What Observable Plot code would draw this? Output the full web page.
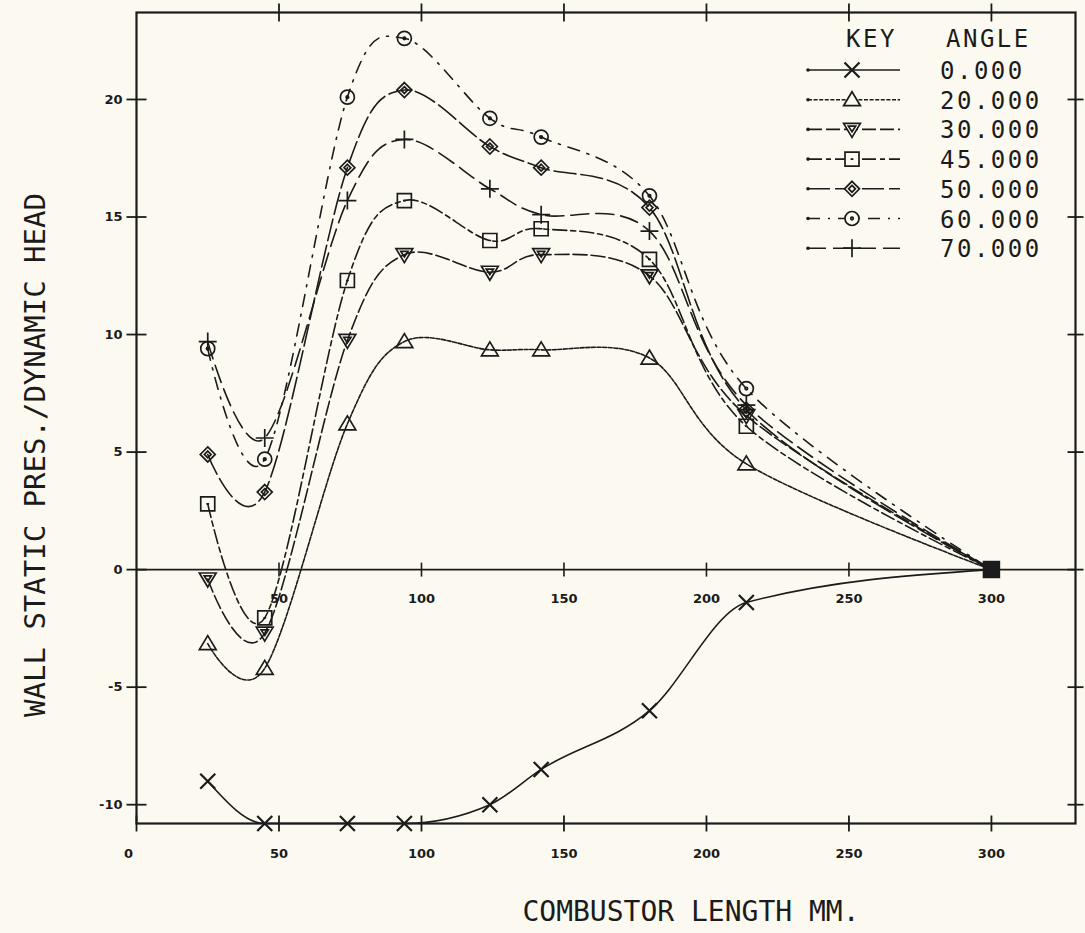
<!DOCTYPE html>
<html>
<head>
<meta charset="utf-8">
<script src="https://cdn.jsdelivr.net/npm/d3@7"></script>
<script src="https://cdn.jsdelivr.net/npm/@observablehq/plot@0.6"></script>
<style>
  html, body { margin: 0; padding: 0; background: #fcfaf0; }
  #wrap { position: relative; width: 1085px; height: 933px; overflow: hidden; }
  #wrap svg { position: absolute; left: 0; top: 0; }
</style>
</head>
<body>
<div id="wrap"></div>
<script>
// ---------- data ----------
const positions = [25, 45, 74, 94, 124, 142, 180, 214, 300];   // combustor length (mm)
const angles = ["0.000", "20.000", "30.000", "45.000", "50.000", "60.000", "70.000"];
const angle0  = [-9.0, -10.8, -10.8, -10.8, -10.0, -8.5, -6.0, -1.4, 0];
const angle20 = [-3.15, -4.2, 6.2, 9.7, 9.35, 9.35, 9.0, 4.5, 0];
const angle30 = [-0.4, -2.7, 9.75, 13.4, 12.65, 13.4, 12.5, 6.55, 0];
const angle45 = [2.8, -2.05, 12.3, 15.7, 14.0, 14.5, 13.2, 6.1, 0];
const angle50 = [4.9, 3.3, 17.1, 20.4, 18.0, 17.1, 15.4, 6.8, 0];
const angle60 = [9.4, 4.7, 20.1, 22.6, 19.2, 18.4, 15.9, 7.7, 0];
const angle70 = [9.7, 5.6, 15.7, 18.3, 16.2, 15.1, 14.4, 7.0, 0];
const seriesValues = [angle0, angle20, angle30, angle45, angle50, angle60, angle70];
const xTicks = [0, 50, 100, 150, 200, 250, 300];
const yTicks = [-10, -5, 0, 5, 10, 15, 20];
const xTitle = "COMBUSTOR LENGTH MM.";
const yTitle = "WALL STATIC PRES./DYNAMIC HEAD";

// ---------- styling ----------
const ink = "#1b1b1b";
const X0 = 0, X1 = 329.5, Y0 = -10.8, Y1 = 23.7;
const rad = s => Math.sqrt(s / Math.PI);
const sym = {
  times: {draw(c, s){const r = rad(s); c.moveTo(-r,-r); c.lineTo(r,r); c.moveTo(-r,r); c.lineTo(r,-r);}},
  triUp: {draw(c, s){const r = rad(s); c.moveTo(0,-r); c.lineTo(r*1.05,r*0.75); c.lineTo(-r*1.05,r*0.75); c.closePath();}},
  triDown: {draw(c, s){const r = rad(s); c.moveTo(0,r); c.lineTo(r*1.05,-r*0.75); c.lineTo(-r*1.05,-r*0.75); c.closePath(); c.moveTo(0,r*0.3); c.lineTo(r*0.45,-r*0.4); c.lineTo(-r*0.45,-r*0.4); c.closePath();}},
  square: {draw(c, s){const r = rad(s); c.rect(-r,-r,2*r,2*r); c.moveTo(-r*0.2,0); c.lineTo(r*0.2,0);}},
  diamond: {draw(c, s){const r = rad(s); c.moveTo(0,-r); c.lineTo(r,0); c.lineTo(0,r); c.lineTo(-r,0); c.closePath(); const q = r*0.45; c.moveTo(0,-q); c.lineTo(q,0); c.lineTo(0,q); c.lineTo(-q,0); c.closePath();}},
  circleDot: {draw(c, s){const r = rad(s); c.moveTo(r,0); c.arc(0,0,r,0,2*Math.PI); c.moveTo(1.3,0); c.arc(0,0,1.3,0,2*Math.PI);}},
  plus: {draw(c, s){const r = rad(s); c.moveTo(-r,0); c.lineTo(r,0); c.moveTo(0,-r); c.lineTo(0,r);}},
  tickV: {draw(c, s){const r = rad(s); c.moveTo(0,-r); c.lineTo(0,r);}},
  tickH: {draw(c, s){const r = rad(s); c.moveTo(-r,0); c.lineTo(r,0);}},
  filledSquare: {draw(c, s){const r = rad(s); c.rect(-r,-r,2*r,2*r);}}
};
const styles = [
  {symbol: sym.times,     r: 7.5, dash: null},
  {symbol: sym.triUp,     r: 8,   dash: "4,1.6"},
  {symbol: sym.triDown,   r: 8,   dash: "14,4"},
  {symbol: sym.square,    r: 7,   dash: "14,4,5,4"},
  {symbol: sym.diamond,   r: 7.5, dash: "22,5"},
  {symbol: sym.circleDot, r: 7,   dash: "12,8,2,8"},
  {symbol: sym.plus,      r: 9,   dash: "18,7"}
];

const rows = seriesValues.map((vals, k) => positions.map((x, i) => ({x, y: vals[i], angle: angles[k]})));

const tickFont = {fontFamily: "DejaVu Sans", fontWeight: 900, fontSize: 13, fill: ink};
const titleFont = {fontFamily: "DejaVu Sans Mono", fontSize: 28, fill: ink};

const marks = [
  Plot.frame({stroke: ink, strokeWidth: 2.2}),
  Plot.ruleY([0], {stroke: ink, strokeWidth: 1.6}),
  // crossing ticks
  Plot.dot(xTicks, {x: d => d, y: () => Y0, symbol: sym.tickV, r: 8, stroke: ink, fill: "none", strokeWidth: 1.8}),
  Plot.dot(xTicks.filter(d => d > 0), {x: d => d, y: () => Y1, symbol: sym.tickV, r: 9, stroke: ink, fill: "none", strokeWidth: 1.8}),
  Plot.dot(xTicks.filter(d => d > 0), {x: d => d, y: () => 0, symbol: sym.tickV, r: 7, stroke: ink, fill: "none", strokeWidth: 1.6}),
  Plot.dot(yTicks, {x: () => X0, y: d => d, symbol: sym.tickH, r: 10, stroke: ink, fill: "none", strokeWidth: 1.8}),
  Plot.dot(yTicks, {x: () => X1, y: d => d, symbol: sym.tickH, r: 8, stroke: ink, fill: "none", strokeWidth: 1.8}),
  // tick labels
  Plot.text(yTicks, {x: () => X0, y: d => d, text: d => String(d), textAnchor: "end", dx: -14, ...tickFont}),
  Plot.text(xTicks.filter(d => d > 0), {x: d => d, y: () => Y0, text: d => String(d), dy: 30, ...tickFont}),
  Plot.text([0], {x: d => d, y: () => Y0, text: d => String(d), dy: 30, dx: -8, ...tickFont}),
  Plot.text(xTicks.filter(d => d > 0), {x: d => d, y: () => 0, text: d => String(d), dy: 29, ...tickFont}),
  // titles
  Plot.text([xTitle], {text: d => d, frameAnchor: "bottom", textAnchor: "middle", dx: 85, dy: 97, ...titleFont}),
  Plot.text([yTitle], {text: d => d, frameAnchor: "left", textAnchor: "middle", rotate: -90, dx: -101, dy: 37, ...titleFont, fontSize: 29})
];

rows.forEach((data, k) => {
  const st = styles[k];
  marks.push(Plot.line(data, {x: "x", y: "y", curve: k === 0 ? "monotone-x" : "cardinal",
    stroke: ink, strokeWidth: 1.6, strokeDasharray: st.dash}));
  marks.push(Plot.dot(data.filter(d => d.x < 300), {x: "x", y: "y", symbol: st.symbol, r: st.r,
    stroke: ink, fill: "none", strokeWidth: k === 0 ? 2.2 : 1.7}));
});
// coincident end point of all curves
marks.push(Plot.dot(rows.map(r => r[r.length - 1]).slice(0, 1), {x: "x", y: "y", symbol: sym.filledSquare, r: 8, fill: ink, stroke: ink}));

const chart = Plot.plot({
  width: 1085, height: 933,
  marginLeft: 136, marginRight: 10, marginTop: 12, marginBottom: 110,
  x: {domain: [X0, X1], axis: null},
  y: {domain: [Y0, Y1], axis: null},
  style: {background: "transparent", color: ink, overflow: "visible"},
  marks
});
document.getElementById("wrap").appendChild(chart);

// ---------- legend (KEY / ANGLE) ----------
const leg = d3.select("#wrap").append("svg")
  .attr("width", 1085).attr("height", 933)
  .style("pointer-events", "none");
const legText = (sel) => sel.attr("font-family", "DejaVu Sans Mono").attr("font-size", 24)
  .attr("letter-spacing", 2.5).attr("fill", ink);
leg.append("text").attr("x", 846).attr("y", 47).text("KEY").call(legText);
leg.append("text").attr("x", 946).attr("y", 47).text("ANGLE").call(legText);
angles.forEach((a, k) => {
  const cy = 70 + k * 29.7, st = styles[k];
  const g = leg.append("g");
  g.append("circle").attr("cx", 808).attr("cy", cy).attr("r", 1.8).attr("fill", ink);
  g.append("line").attr("x1", 808).attr("x2", 900).attr("y1", cy).attr("y2", cy)
    .attr("stroke", ink).attr("stroke-width", 1.6).attr("stroke-dasharray", st.dash);
  g.append("path").attr("transform", `translate(852,${cy})`)
    .attr("d", d3.symbol(st.symbol, Math.PI * st.r * st.r)())
    .attr("fill", "#fcfaf0").attr("stroke", ink).attr("stroke-width", k === 0 ? 2.2 : 1.7);
  g.append("text").attr("x", 940).attr("y", cy + 9).text(a).call(legText);
});
</script>
</body>
</html>
